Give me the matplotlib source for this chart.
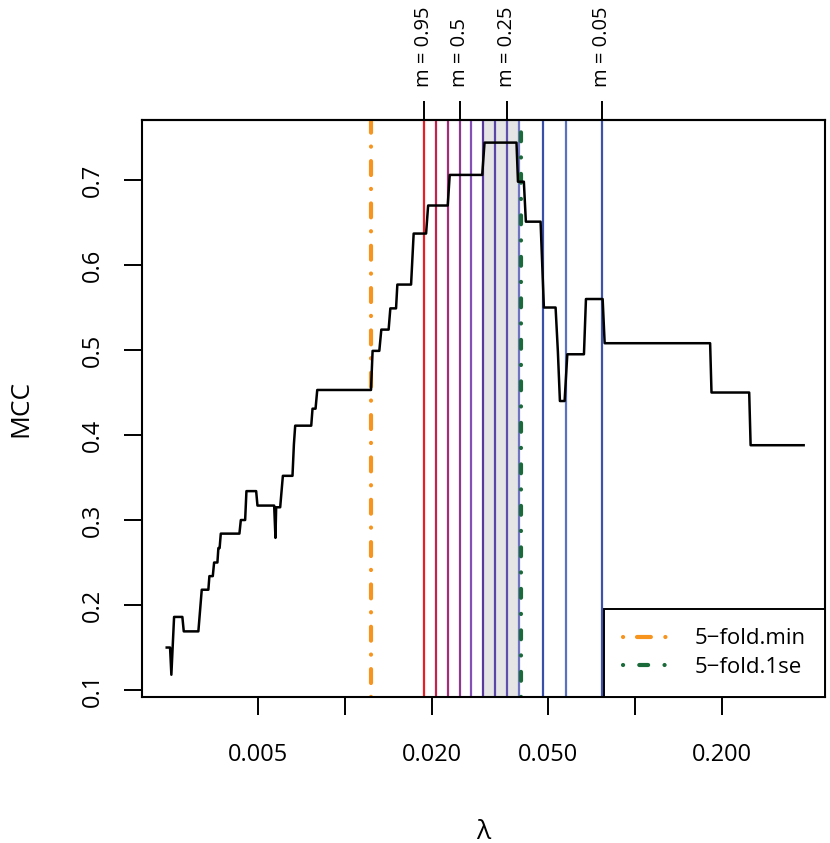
import matplotlib
matplotlib.use("Agg")
import matplotlib.pyplot as plt
from matplotlib.lines import Line2D

plt.rcParams['font.family'] = ['Open Sans', 'DejaVu Sans']

# cross-validated MCC along the lambda path
lam_curve = [0.002432, 0.002497, 0.002523, 0.002578, 0.002753, 0.002784, 0.003126,
             0.003211, 0.003384, 0.003412, 0.003505, 0.003542, 0.003636, 0.003664,
             0.003700, 0.003735, 0.004330, 0.004379, 0.004531, 0.004578, 0.004945,
             0.004997, 0.005705, 0.005764, 0.005796, 0.005984, 0.006113, 0.006598,
             0.006672, 0.006741, 0.007656, 0.007735, 0.007923, 0.008030, 0.012303,
             0.012460, 0.013142, 0.013353, 0.014150, 0.014344, 0.015009, 0.015165,
             0.01691, 0.01726, 0.01905, 0.01936, 0.02262, 0.02298, 0.02974, 0.03029,
             0.03904, 0.03950, 0.04139, 0.04205, 0.04726, 0.04852, 0.05324, 0.05422,
             0.05510, 0.05719, 0.05843, 0.06668, 0.06775, 0.07735, 0.07859, 0.1815,
             0.1835, 0.2475, 0.2503, 0.3813]
mcc_curve = [0.150, 0.150, 0.118, 0.186, 0.186, 0.169, 0.169,
             0.218, 0.218, 0.234, 0.234, 0.250, 0.250, 0.267,
             0.267, 0.284, 0.284, 0.300, 0.300, 0.334, 0.334,
             0.317, 0.317, 0.279, 0.315, 0.315, 0.352, 0.352,
             0.389, 0.411, 0.411, 0.431, 0.431, 0.453, 0.453,
             0.499, 0.499, 0.524, 0.524, 0.549, 0.549, 0.577,
             0.577, 0.637, 0.637, 0.670, 0.670, 0.706, 0.706, 0.744,
             0.744, 0.698, 0.698, 0.651, 0.651, 0.550, 0.550, 0.498,
             0.440, 0.440, 0.495, 0.495, 0.560, 0.560, 0.508, 0.508,
             0.450, 0.450, 0.388, 0.388]

# lambdas chosen for each m value
m_lambda = [0.01879, 0.02063, 0.02266, 0.02489, 0.02731, 0.03000,
            0.03300, 0.03627, 0.03977, 0.04813, 0.05797, 0.07675]
m_colors = ['#ed1c24', '#c4214f', '#a52d78', '#8b3a8f', '#8450b8', '#5b3a9e',
            '#5a44a8', '#6050ad', '#6f74c2', '#3a4fa8', '#5a70c0', '#3e52ac']
m_tick_lambda = [0.01879, 0.02489, 0.03627, 0.07675]
m_tick_labels = ['m = 0.95', 'm = 0.5', 'm = 0.25', 'm = 0.05']

lambda_min = 0.01233
lambda_1se = 0.04053
shade_range = (0.03000, 0.03977)

x_ticks = [0.005, 0.01, 0.02, 0.05, 0.1, 0.2]
x_tick_labels = ['0.005', '', '0.020', '0.050', '', '0.200']
y_ticks = [0.1, 0.2, 0.3, 0.4, 0.5, 0.6, 0.7]

orange = '#f7941d'
green = '#1b6b3a'
ls_min = (0, (0.03, 3.33, 3.33, 3.47))
ls_1se = (0, (0.03, 3.87, 2.13, 3.93))

fig = plt.figure(figsize=(8.3, 8.43), dpi=100)
ax = fig.add_axes([142 / 830, 1 - 697 / 843, (825 - 142) / 830, (697 - 120) / 843])
ax.set_xscale('log')

ax.axvspan(shade_range[0], shade_range[1], color='#e5e5e5', lw=0, zorder=0)
for lam, col in zip(m_lambda, m_colors):
    ax.axvline(lam, color=col, lw=1.6, zorder=1)
ax.axvline(lambda_min, color=orange, lw=3, linestyle=ls_min, dash_capstyle='round', zorder=2)
ax.axvline(lambda_1se, color=green, lw=3, linestyle=ls_1se, dash_capstyle='round', zorder=2)
ax.plot(lam_curve, mcc_curve, color='black', lw=1.8, zorder=3)

ax.set_xlim(0.0019985, 0.4517)
ax.set_ylim(0.0918, 0.7706)

ax.set_xticks(x_ticks)
ax.set_xticklabels(x_tick_labels)
ax.xaxis.set_minor_locator(matplotlib.ticker.NullLocator())
ax.set_yticks(y_ticks)
ax.set_yticklabels([str(v) for v in y_ticks], rotation=90, va='center')
ax.tick_params(axis='both', direction='out', length=13, width=1.4, labelsize=17)
ax.tick_params(axis='x', pad=20)
ax.tick_params(axis='y', pad=14)

for sp in ax.spines.values():
    sp.set_linewidth(1.5)

sec = ax.secondary_xaxis('top')
sec.set_xticks(m_tick_lambda)
sec.set_xticklabels(m_tick_labels, rotation=90)
sec.xaxis.set_minor_locator(matplotlib.ticker.NullLocator())
sec.tick_params(direction='out', length=14, width=1.4, labelsize=14.5, pad=10)
sec.spines['top'].set_linewidth(1.5)

ax.set_xlabel('λ', fontsize=19, labelpad=38)
ax.set_ylabel('MCC', fontsize=19, labelpad=34)

handles = [Line2D([], [], color=orange, lw=3, linestyle=ls_min, dash_capstyle='round'),
           Line2D([], [], color=green, lw=3, linestyle=ls_1se, dash_capstyle='round')]
leg = ax.legend(handles, ['5\u2212fold.min', '5\u2212fold.1se'], loc='lower right',
                borderaxespad=0, fontsize=16, fancybox=False, framealpha=1,
                edgecolor='black', handlelength=2.0, handletextpad=1.25,
                borderpad=0.85, labelspacing=0.35)
leg.get_frame().set_linewidth(1.4)
leg.set_zorder(5)

fig.savefig('out.png', dpi=100)
